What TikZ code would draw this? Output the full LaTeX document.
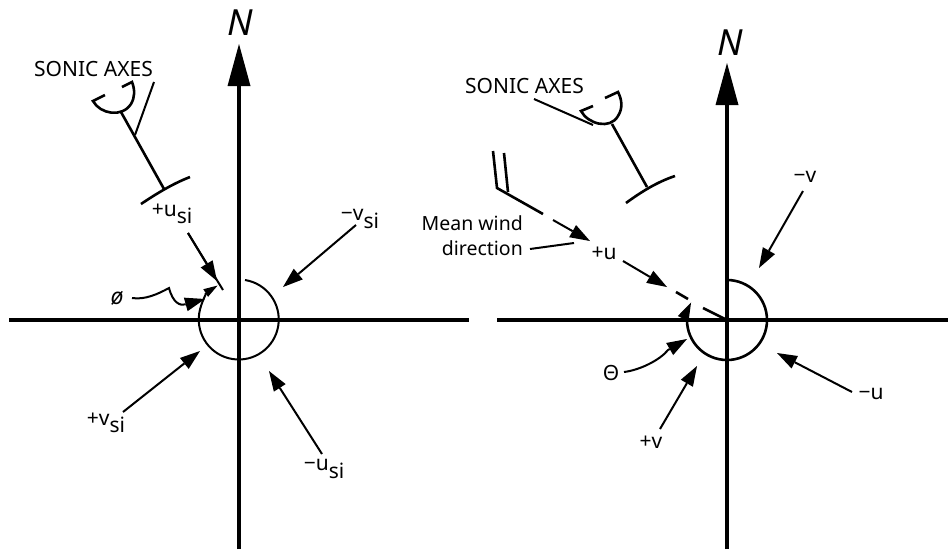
\documentclass[tikz,border=0pt]{standalone}
\usepackage{fontspec}
\setmainfont{Noto Sans}
\usetikzlibrary{arrows.meta}
\tikzset{
 lab/.style={inner sep=0pt,font=\fontsize{21}{25}\selectfont,align=center},
 axisline/.style={line width=4pt},
 northarrow/.style={line width=4pt,-{Triangle[length=42pt,width=23pt,line width=0pt]}},
 thin line/.style={line width=2pt},
 medline/.style={line width=2.6pt},
 tipped/.style={line width=2pt,-{Triangle[length=20pt,width=14pt,line width=0pt]}},
 small tipped/.style={line width=2pt,-{Triangle[length=14pt,width=9pt,line width=0pt]}},
}
\newcommand{\subsi}{\raisebox{-.35em}{si}}
\begin{document}
\begin{tikzpicture}[x=1pt,y=-1pt]
\useasboundingbox[fill=white] (0,0) rectangle (948,550);
% LEFT
\coordinate (lc) at (239,320);
\coordinate (lw) at (9,320); \coordinate (le) at (469,320);
\coordinate (ls) at (239,549); \coordinate (ln) at (239,44);
\draw[axisline] (lw) -- (le);
\draw[northarrow] (ls) -- (ln);
\node[lab,font=\fontsize{36}{40}\selectfont\itshape] (lN) at (240,23) {N};
\node[lab,anchor=west] (lsonic) at (34,69) {SONIC AXES};
\draw[small tipped] (245,280) arc[start angle=-81,end angle=238,radius=40];
\coordinate (lcupa) at (105,95); \coordinate (lcupb) at (93,101); \coordinate (lcupc) at (132,82); \coordinate (lcupd) at (122,87);
\draw[medline] (lcupa) -- (lcupb) .. controls (100,114) and (122,118) .. (131,104) .. controls (135,97) and (135,90) .. (lcupc) -- (lcupd);
\coordinate (lstema) at (121,112); \coordinate (lstemb) at (164,189);
\draw[medline] (lstema) -- (lstemb);
\coordinate (lbara) at (141,204); \coordinate (lbarb) at (190,177);
\draw[medline] (lbara) .. controls (156,194) and (172,184) .. (lbarb);
\coordinate (llead) at (154,82); \coordinate (lleadb) at (135,135);
\draw[thin line] (llead) -- (lleadb);
\node[lab] (luplus) at (172,214) {+u\subsi};
\coordinate (lua) at (188,233); \coordinate (lub) at (223,290); \coordinate (lut) at (217,281);
\draw[thin line] (lua) -- (lub);
\draw[tipped] (lua) -- (lut);
\node[lab] (lvminus) at (360,219) {−v\subsi};
\coordinate (lva) at (356,225); \coordinate (lvb) at (283,287);
\draw[tipped] (lva) -- (lvb);
\node[lab] (lvplus) at (106,423) {+v\subsi};
\coordinate (lvc) at (123,412); \coordinate (lvd) at (200,351);
\draw[tipped] (lvc) -- (lvd);
\node[lab] (luminus) at (324,469) {−u\subsi};
\coordinate (luc) at (322,454); \coordinate (lud) at (269,371);
\draw[tipped] (luc) -- (lud);
\node[lab,font=\fontsize{23}{26}\selectfont\itshape] (lphi) at (117,298) {ø};
\coordinate (lpa) at (132,298); \coordinate (lpb) at (169,288); \coordinate (lpc) at (205,299);
\draw[tipped] (lpa) .. controls (145,300) and (158,294) .. (lpb) .. controls (173,303) and (180,306) .. (lpc);
% RIGHT
\coordinate (rc) at (727,320);
\coordinate (rw) at (497,320); \coordinate (re) at (948,320);
\coordinate (rs) at (727,549); \coordinate (rn) at (727,63);
\draw[axisline] (rw) -- (re);
\draw[northarrow] (rs) -- (rn);
\node[lab,font=\fontsize{36}{40}\selectfont\itshape] (rN) at (730,43) {N};
\node[lab,anchor=west] (rsonic) at (465,86) {SONIC AXES};
\draw[line width=2.6pt,-{Triangle[length=18pt,width=12pt,line width=0pt]}] (727,280) arc[start angle=-90,end angle=206,radius=40];
\coordinate (rcupa) at (593,106); \coordinate (rcupb) at (581,111); \coordinate (rcupc) at (618,92); \coordinate (rcupd) at (605,98);
\draw[medline] (rcupa) -- (rcupb) .. controls (588,124) and (610,130) .. (618,116) .. controls (623,108) and (622,100) .. (rcupc) -- (rcupd);
\coordinate (rstema) at (612,124); \coordinate (rstemb) at (647,187);
\draw[medline] (rstema) -- (rstemb);
\coordinate (rbara) at (626,203); \coordinate (rbarb) at (675,176);
\draw[medline] (rbara) .. controls (641,192) and (657,182) .. (rbarb);
\coordinate (rlead) at (534,99); \coordinate (rleadb) at (593,125);
\draw[thin line] (rlead) -- (rleadb);
% vane
\coordinate (ra) at (497,188); \coordinate (rb) at (543,214); \coordinate (rd) at (553,220); \coordinate (rt1) at (590,241);
\draw[medline] (493,151) -- (ra) -- (rb);
\draw[medline] (504,153) -- (508,192);
\draw[tipped] (rd) -- (rt1);
\node[lab] (ruplus) at (604,253) {+u};
\coordinate (re1) at (623,261); \coordinate (rt2) at (667,287);
\draw[tipped] (re1) -- (rt2);
\coordinate (rf1) at (676,292); \coordinate (rf2) at (688,299); \coordinate (rg1) at (703,308);
\draw[medline] (rf1) -- (rf2);
\draw[medline] (rg1) -- (rc);
\node[lab,anchor=east,align=right,font=\fontsize{19.5}{25}\selectfont] (rmean) at (523,236) {Mean wind\\direction};
\coordinate (rla) at (530,249); \coordinate (rlb) at (574,243);
\draw[thin line] (rla) -- (rlb);
\node[lab] (rvminus) at (805,177) {−v};
\coordinate (rva) at (803,191); \coordinate (rvb) at (759,268);
\draw[tipped] (rva) -- (rvb);
\node[lab] (ruminus) at (871,394) {−u};
\coordinate (ruc) at (852,392); \coordinate (rud) at (777,353);
\draw[tipped] (ruc) -- (rud);
\node[lab] (rvplus) at (651,442) {+v};
\coordinate (rvc) at (660,429); \coordinate (rvd) at (697,366);
\draw[tipped] (rvc) -- (rvd);
\node[lab] (rtheta) at (611,373) {Θ};
\coordinate (rta) at (624,372); \coordinate (rtb) at (687,339);
\draw[tipped] (rta) .. controls (640,370) and (660,360) .. (668,350) -- (rtb);
\end{tikzpicture}
\end{document}
